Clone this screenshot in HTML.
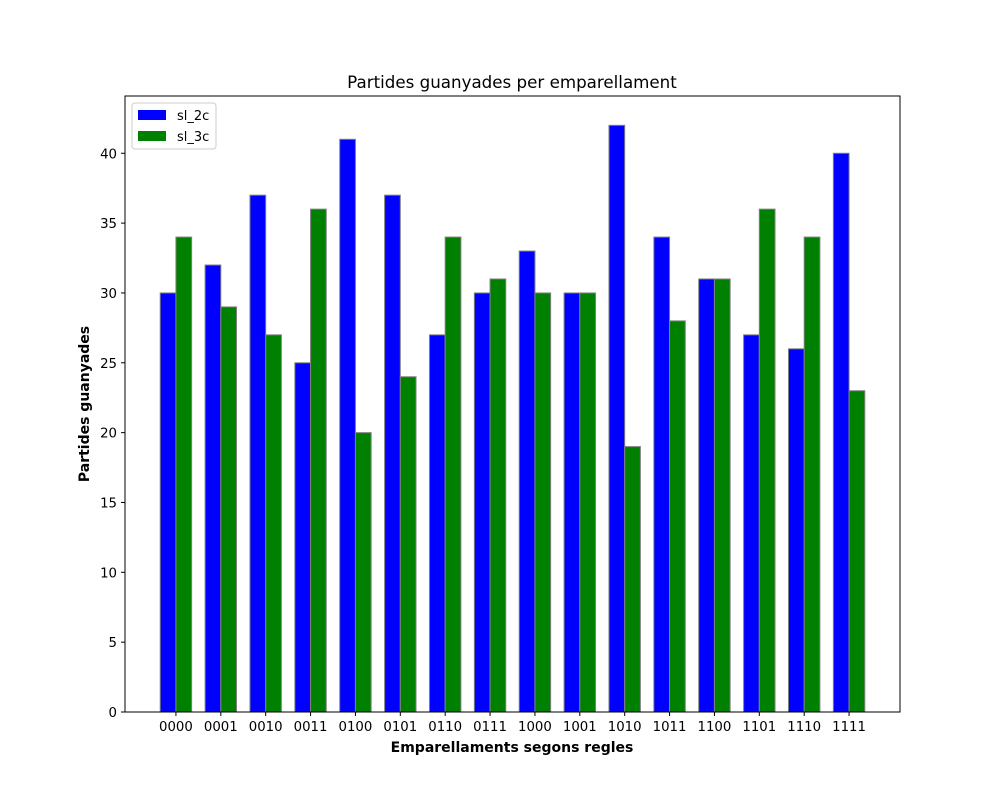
<!DOCTYPE html>
<html><head><meta charset="utf-8">
<style>
body{margin:0;background:#fff;}
svg text{font-family:"DejaVu Sans","Liberation Sans",sans-serif;}
</style></head>
<body>
<svg id="chart" width="1000" height="800" xmlns="http://www.w3.org/2000/svg">
<rect width="1000" height="800" fill="#fff"/>
<text x="512" y="88" text-anchor="middle" font-size="16.7">Partides guanyades per emparellament</text>
<g id="bars"></g>
<g id="axes"></g>
<text x="512" y="752" text-anchor="middle" font-size="14" font-weight="bold">Emparellaments segons regles</text>
<text transform="translate(89,404) rotate(-90)" text-anchor="middle" font-size="14" font-weight="bold">Partides guanyades</text>
<g>
<rect x="132" y="103" width="84" height="46" fill="#fff" stroke="#ccc" rx="3"/>
<rect x="138" y="110" width="28" height="10" fill="#0000ff"/>
<text x="177" y="120" font-size="13">sl_2c</text>
<rect x="138" y="131" width="28" height="10" fill="#008000"/>
<text x="177" y="141" font-size="13">sl_3c</text>
</g>
</svg>
<script>
const categories=["0000","0001","0010","0011","0100","0101","0110","0111","1000","1001","1010","1011","1100","1101","1110","1111"];
const sl2c=[30,32,37,25,41,37,27,30,33,30,42,34,31,27,26,40];
const sl3c=[34,29,27,36,20,24,34,31,30,30,19,28,31,36,34,23];
const yTicks=[0,5,10,15,20,25,30,35,40];

const L=125,R=900,T=96,B=712,W=0.35;
const n=categories.length;
const dmin=-W/2,dmax=n-1+W+W/2,pad=(dmax-dmin)*0.05;
const xmin=dmin-pad,xmax=dmax+pad;
const ymax=Math.max(...sl2c,...sl3c)*1.05;
const x=v=>L+(v-xmin)/(xmax-xmin)*(R-L);
const y=v=>B-v/ymax*(B-T);
const NS="http://www.w3.org/2000/svg";
const bars=document.getElementById('bars'),axes=document.getElementById('axes');
function mk(tag,attrs,parent){const e=document.createElementNS(NS,tag);for(const k in attrs)e.setAttribute(k,attrs[k]);parent.appendChild(e);return e;}
categories.forEach((c,i)=>{
  const b=mk('rect',{x:x(i-W/2),y:y(sl2c[i]),width:x(W)-x(0),height:y(0)-y(sl2c[i]),fill:'#0000ff',stroke:'#808080','stroke-width':1},bars);
  
  
  const g=mk('rect',{x:x(i+W/2),y:y(sl3c[i]),width:x(W)-x(0),height:y(0)-y(sl3c[i]),fill:'#008000',stroke:'#808080','stroke-width':1},bars);
  
  
  const tx=x(i+W/2);
  const t=mk('line',{x1:tx,x2:tx,y1:B,y2:B+4,stroke:'#000'},axes);
  
  
  const l=mk('text',{x:tx,y:B+19,'text-anchor':'middle','font-size':13.3},axes);
  l.textContent=c;
  
  
});
yTicks.forEach(v=>{
  const t=mk('line',{x1:L-4,x2:L,y1:y(v),y2:y(v),stroke:'#000'},axes);
  
  
  const l=mk('text',{x:L-8,y:y(v)+5,'text-anchor':'end','font-size':13.3},axes);
  l.textContent=v;
  
  
});
const frame=mk('rect',{x:L,y:T,width:R-L,height:B-T,fill:'none',stroke:'#000','stroke-width':1},axes);


</script>
</body></html>
